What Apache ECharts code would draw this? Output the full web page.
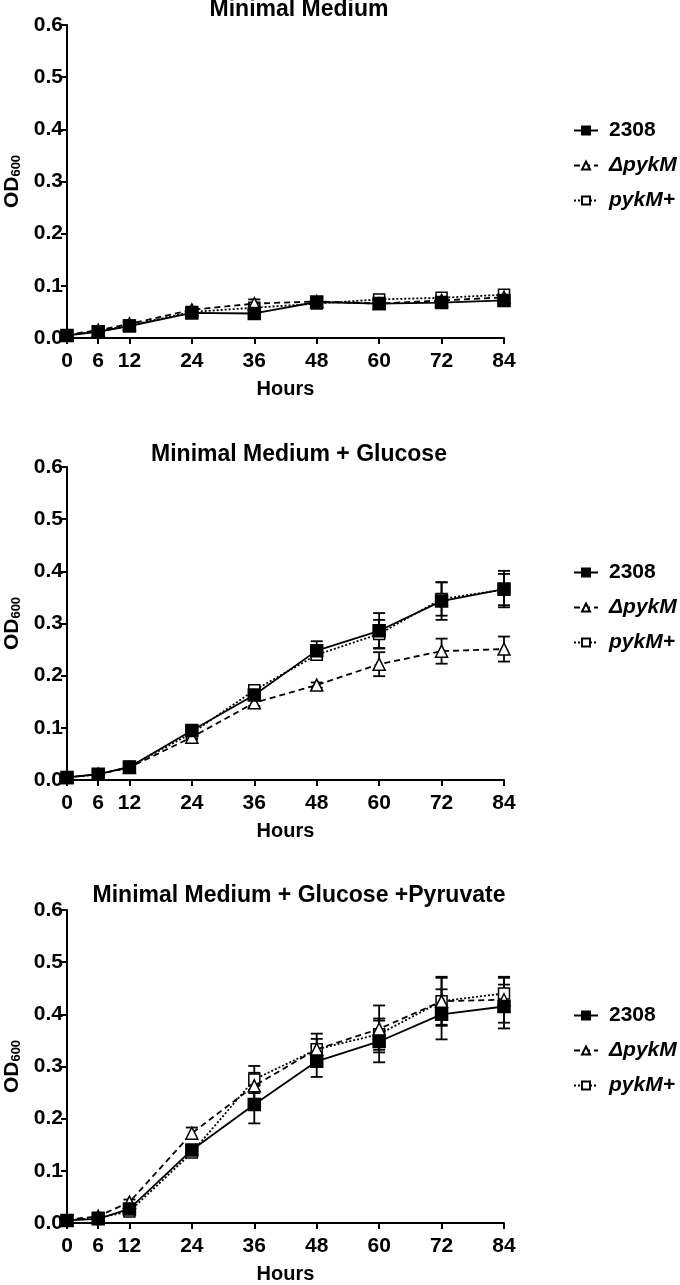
<!DOCTYPE html>
<html>
<head>
<meta charset="utf-8">
<script src="https://cdn.jsdelivr.net/npm/echarts@6/dist/echarts.min.js"></script>
<style>
html,body{margin:0;padding:0;background:#fff;}
#chart{width:680px;height:1285px;}
</style>
</head>
<body>
<div id="chart"></div>
<script>
// ---- data ----
const hours = [0, 6, 12, 24, 36, 48, 60, 72, 84];
const xTicks = [0, 6, 12, 24, 36, 48, 60, 72, 84];
const panelTitles = ['Minimal Medium', 'Minimal Medium + Glucose', 'Minimal Medium + Glucose +Pyruvate'];
const seriesNames = ['2308', 'ΔpykM', 'pykM+'];

// Panel 1: Minimal Medium
const mm_2308      = [0.005, 0.012, 0.023, 0.048, 0.047, 0.069, 0.066, 0.068, 0.072];
const mm_2308_err  = [0.002, 0.002, 0.003, 0.003, 0.004, 0.003, 0.003, 0.003, 0.003];
const mm_dpykM     = [0.006, 0.015, 0.027, 0.054, 0.066, 0.070, 0.066, 0.072, 0.078];
const mm_dpykM_err = [0.002, 0.002, 0.003, 0.003, 0.008, 0.003, 0.003, 0.003, 0.003];
const mm_pykMp     = [0.005, 0.013, 0.024, 0.050, 0.058, 0.066, 0.074, 0.077, 0.083];
const mm_pykMp_err = [0.002, 0.002, 0.003, 0.003, 0.004, 0.003, 0.003, 0.003, 0.003];

// Panel 2: Minimal Medium + Glucose
const glc_2308      = [0.005, 0.011, 0.025, 0.095, 0.163, 0.248, 0.286, 0.343, 0.366];
const glc_2308_err  = [0.002, 0.002, 0.003, 0.005, 0.008, 0.018, 0.034, 0.036, 0.035];
const glc_dpykM     = [0.005, 0.011, 0.024, 0.082, 0.148, 0.182, 0.222, 0.247, 0.251];
const glc_dpykM_err = [0.002, 0.002, 0.003, 0.005, 0.006, 0.005, 0.023, 0.024, 0.024];
const glc_pykMp     = [0.005, 0.011, 0.025, 0.090, 0.172, 0.240, 0.280, 0.347, 0.365];
const glc_pykMp_err = [0.002, 0.002, 0.003, 0.005, 0.008, 0.010, 0.027, 0.032, 0.030];

// Panel 3: Minimal Medium + Glucose + Pyruvate
const pyr_2308      = [0.005, 0.008, 0.027, 0.140, 0.227, 0.310, 0.348, 0.400, 0.415];
const pyr_2308_err  = [0.003, 0.003, 0.005, 0.007, 0.036, 0.030, 0.040, 0.048, 0.042];
const pyr_dpykM     = [0.006, 0.013, 0.040, 0.172, 0.263, 0.333, 0.372, 0.425, 0.428];
const pyr_dpykM_err = [0.002, 0.003, 0.005, 0.011, 0.025, 0.030, 0.045, 0.047, 0.044];
const pyr_pykMp     = [0.005, 0.010, 0.022, 0.135, 0.275, 0.333, 0.362, 0.425, 0.440];
const pyr_pykMp_err = [0.002, 0.003, 0.005, 0.006, 0.026, 0.020, 0.030, 0.045, 0.030];

const panels = [
  {vals: [mm_2308, mm_dpykM, mm_pykMp], errs: [mm_2308_err, mm_dpykM_err, mm_pykMp_err]},
  {vals: [glc_2308, glc_dpykM, glc_pykMp], errs: [glc_2308_err, glc_dpykM_err, glc_pykMp_err]},
  {vals: [pyr_2308, pyr_dpykM, pyr_pykMp], errs: [pyr_2308_err, pyr_dpykM_err, pyr_pykMp_err]}
];

// ---- layout / style ----
const FONT = '"Liberation Sans", Arial, sans-serif';
const gridTops = [25, 467, 910];
const gridH = 313;
const gridLeft = 67, gridW = 437;
const titleTops = [-7, 438, 879];

const styles = [
  {line: {type: 'solid', width: 1.8}, symbol: 'rect', size: 12, fill: '#000'},
  {line: {type: [6, 4], width: 1.8}, symbol: 'triangle', size: 12, fill: '#fff'},
  {line: {type: [2, 2], width: 1.8}, symbol: 'rect', size: 11, fill: '#fff'}
];

const chart = echarts.init(document.getElementById('chart'), null, {renderer: 'canvas'});

const grids = [], xAxes = [], yAxes = [], series = [], titles = [], legends = [];

function errRender(params, api) {
  const x = api.value(0), lo = api.value(1), hi = api.value(2);
  const a = api.coord([x, hi]), b = api.coord([x, lo]);
  const w = 6;
  const st = {stroke: '#000', lineWidth: 1.8};
  return {type: 'group', children: [
    {type: 'line', shape: {x1: a[0], y1: a[1], x2: b[0], y2: b[1]}, style: st},
    {type: 'line', shape: {x1: a[0] - w, y1: a[1], x2: a[0] + w, y2: a[1]}, style: st},
    {type: 'line', shape: {x1: b[0] - w, y1: b[1], x2: b[0] + w, y2: b[1]}, style: st}
  ]};
}

panels.forEach((p, i) => {
  grids.push({left: gridLeft, top: gridTops[i], width: gridW, height: gridH,
    outerBoundsMode: 'none', containLabel: false});
  titles.push({
    text: panelTitles[i], left: 294, top: titleTops[i], textAlign: 'center',
    textStyle: {fontFamily: FONT, fontWeight: 'bold', fontSize: 23, color: '#000'}
  });
  xAxes.push({
    type: 'value', gridIndex: i, min: 0, max: 84,
    name: 'Hours', nameLocation: 'middle', nameGap: 41, nameMoveOverlap: false,
    nameTextStyle: {fontFamily: FONT, fontWeight: 'bold', fontSize: 20, color: '#000'},
    axisLine: {show: true, onZero: false, lineStyle: {color: '#000', width: 2}},
    axisTick: {show: true, length: 6, lineStyle: {color: '#000', width: 2}, customValues: xTicks},
    axisLabel: {fontFamily: FONT, fontWeight: 'bold', fontSize: 21, color: '#000', margin: 13, customValues: xTicks},
    splitLine: {show: false}
  });
  yAxes.push({
    type: 'value', gridIndex: i, min: 0, max: 0.6, interval: 0.1,
    name: '{a|OD}{b|600}', nameLocation: 'middle', nameGap: 44, nameMoveOverlap: false,
    nameTextStyle: {
      color: '#000',
      rich: {
        a: {fontFamily: FONT, fontWeight: 'bold', fontSize: 21, color: '#000', verticalAlign: 'bottom', lineHeight: 24},
        b: {fontFamily: FONT, fontWeight: 'bold', fontSize: 13, color: '#000', verticalAlign: 'bottom', lineHeight: 16}
      }
    },
    axisLine: {show: true, onZero: false, lineStyle: {color: '#000', width: 2}},
    axisTick: {show: true, length: 6, lineStyle: {color: '#000', width: 2}},
    axisLabel: {fontFamily: FONT, fontWeight: 'bold', fontSize: 21, color: '#000', margin: 4,
      formatter: v => v.toFixed(1)},
    splitLine: {show: false}
  });
  // error bars
  [2, 1, 0].forEach(k => {
    series.push({
      type: 'custom', name: seriesNames[k] + ' err', xAxisIndex: i, yAxisIndex: i,
      renderItem: errRender, silent: true, z: 2,
      encode: {x: 0, y: [1, 2]},
      data: hours.map((h, j) => [h, p.vals[k][j] - p.errs[k][j], p.vals[k][j] + p.errs[k][j]])
    });
  });
  // lines
  [2, 1, 0].forEach(k => {
    const s = styles[k];
    series.push({
      type: 'line', name: seriesNames[k], xAxisIndex: i, yAxisIndex: i,
      data: hours.map((h, j) => [h, p.vals[k][j]]),
      symbol: s.symbol, symbolSize: s.size, showAllSymbol: true,
      lineStyle: {color: '#000', width: s.line.width, type: s.line.type},
      itemStyle: {color: s.fill, borderColor: '#000', borderWidth: 1.5},
      z: 3 + (2 - k), animation: false
    });
  });
  legends.push({
    data: seriesNames, orient: 'vertical', left: 568, top: gridTops[i] + 90,
    itemWidth: 24, itemHeight: 10, itemGap: 14, selectedMode: false,
    formatter: n => n === '2308' ? '{n|' + n + '}' : '{i|' + n + '}',
    textStyle: {
      color: '#000', padding: [0, 0, 0, 6],
      rich: {
        n: {fontFamily: FONT, fontWeight: 'bold', fontSize: 21, color: '#000'},
        i: {fontFamily: FONT, fontWeight: 'bold', fontStyle: 'italic', fontSize: 21, color: '#000'}
      }
    }
  });
});

chart.setOption({
  animation: false,
  backgroundColor: '#fff',
  title: titles,
  legend: legends,
  grid: grids,
  xAxis: xAxes,
  yAxis: yAxes,
  series: series
});
</script>
</body>
</html>
